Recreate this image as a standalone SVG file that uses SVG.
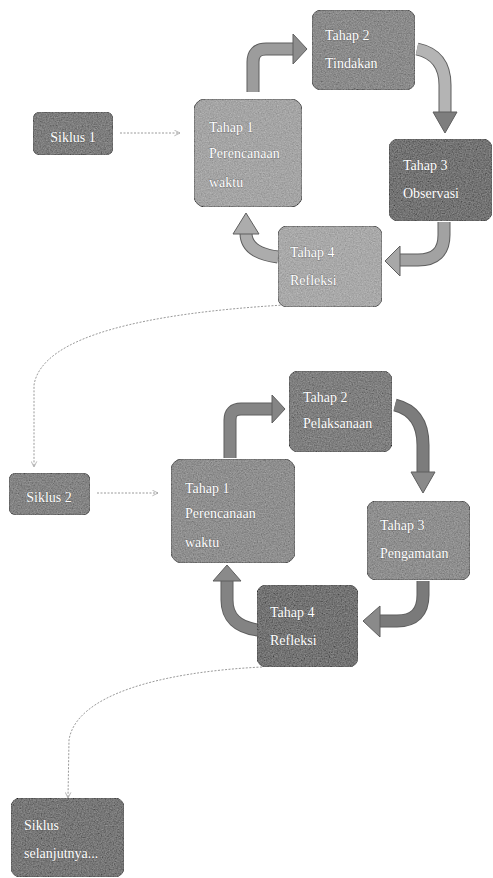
<svg xmlns="http://www.w3.org/2000/svg" width="493" height="878" viewBox="0 0 493 878">
<defs>
  <filter id="grain" x="0" y="0" width="1" height="1">
    <feTurbulence type="fractalNoise" baseFrequency="0.75" numOctaves="2" seed="4" result="t"/>
    <feColorMatrix in="t" type="matrix" values="0.33 0.33 0.33 0 0  0.33 0.33 0.33 0 0  0.33 0.33 0.33 0 0  0 0 0 0 1" result="g"/>
    <feComposite in="SourceGraphic" in2="g" operator="arithmetic" k1="0" k2="1" k3="0.45" k4="-0.22" result="m"/>
    <feComposite in="m" in2="SourceAlpha" operator="in"/>
  </filter>
  <marker id="open" viewBox="0 0 10 10" refX="9" refY="5" markerWidth="7" markerHeight="7" orient="auto" markerUnits="userSpaceOnUse">
    <path d="M1 1 L9 5 L1 9" fill="none" stroke="#999" stroke-width="1"/>
  </marker>
</defs>
<style>
  .box{stroke:#5a5a5a;stroke-width:1;filter:url(#grain)}
  .lbl{font-family:"Liberation Serif","Times New Roman",serif;font-size:14px;fill:#ffffff;stroke:#4a4a4a;stroke-width:0.4px;paint-order:stroke}
  .dot{fill:none;stroke:#9a9a9a;stroke-width:1;stroke-dasharray:2 1.5}
  .shaft-o{fill:none;stroke:#5e5e5e;stroke-width:13}
  .head{stroke:#5e5e5e;stroke-width:1;stroke-linejoin:round}
</style>
<rect width="493" height="878" fill="#ffffff"/>

<g id="connectors">
  <!-- dotted connectors -->
  <path class="dot" d="M120 133 L180 133" marker-end="url(#open)"/>
  <path class="dot" d="M97 493 L158 493" marker-end="url(#open)"/>
  <path class="dot" d="M284 305 C150 313 42 335 34 385 L34 467" marker-end="url(#open)"/>
  <path class="dot" d="M262 667 C160 672 76 695 69 740 L68 798" marker-end="url(#open)"/>

  <!-- cycle 1 block arrows -->
  <g id="a1">
    <path class="shaft-o" d="M253 92 L253 62 Q253 49 266 49 L295 49"/>
    <path fill="none" stroke="#9c9c9c" stroke-width="11" d="M253 92 L253 62 Q253 49 266 49 L295 49"/>
    <polygon class="head" fill="#8e8e8e" points="293,34 307,49 293,64"/>
  </g>
  <g id="a2">
    <path class="shaft-o" d="M417 49 Q445 55 445 85 L445 113"/>
    <path fill="none" stroke="#b4b4b4" stroke-width="11" d="M417 49 Q445 55 445 85 L445 113"/>
    <polygon class="head" fill="#7e7e7e" points="433,112 457,112 445,133"/>
  </g>
  <g id="a3">
    <path class="shaft-o" d="M444 222 L444 235 Q444 260 418 260 L399 260"/>
    <path fill="none" stroke="#a2a2a2" stroke-width="11" d="M444 222 L444 235 Q444 260 418 260 L399 260"/>
    <polygon class="head" fill="#a8a8a8" points="400,246 400,276 385,261"/>
  </g>
  <g id="a4">
    <path class="shaft-o" d="M278 257 Q246 253 246 233"/>
    <path fill="none" stroke="#acacac" stroke-width="11" d="M278 257 Q246 253 246 233"/>
    <polygon class="head" fill="#acacac" points="233,234 259,234 246,213"/>
  </g>

  <!-- cycle 2 block arrows -->
  <g id="b1">
    <path class="shaft-o" d="M230 458 L230 420 Q230 409 241 409 L274 409"/>
    <path fill="none" stroke="#858585" stroke-width="11" d="M230 458 L230 420 Q230 409 241 409 L274 409"/>
    <polygon class="head" fill="#858585" points="272,395 285,409 272,423"/>
  </g>
  <g id="b2">
    <path class="shaft-o" d="M395 405 Q423 412 423 445 L423 474"/>
    <path fill="none" stroke="#7c7c7c" stroke-width="11" d="M395 405 Q423 412 423 445 L423 474"/>
    <polygon class="head" fill="#8a8a8a" points="411,472 435,472 423,493"/>
  </g>
  <g id="b3">
    <path class="shaft-o" d="M423 581 L423 595 Q423 621 397 621 L379 621"/>
    <path fill="none" stroke="#7a7a7a" stroke-width="11" d="M423 581 L423 595 Q423 621 397 621 L379 621"/>
    <polygon class="head" fill="#8a8a8a" points="380,606 380,637 363,621"/>
  </g>
  <g id="b4">
    <path class="shaft-o" d="M258 630 Q227 626 227 600 L227 580"/>
    <path fill="none" stroke="#838383" stroke-width="11" d="M258 630 Q227 626 227 600 L227 580"/>
    <polygon class="head" fill="#8a8a8a" points="213,581 241,581 227,565"/>
  </g>
</g>

<!-- cycle 1 nodes -->
<g id="siklus1">
  <rect class="box" x="33" y="112" width="80" height="43" rx="7" fill="#7c7c7c"/>
  <text class="lbl" x="73" y="142" text-anchor="middle">Siklus 1</text>
</g>
<g id="c1-tahap1">
  <rect class="box" x="194" y="99" width="108" height="108" rx="11" fill="#a4a4a4"/>
  <text class="lbl" x="209" y="132">Tahap 1</text>
  <text class="lbl" x="209" y="158">Perencanaan</text>
  <text class="lbl" x="209" y="187">waktu</text>
</g>
<g id="c1-tahap2">
  <rect class="box" x="312" y="10" width="103" height="80" rx="9" fill="#8a8a8a"/>
  <text class="lbl" x="325" y="40">Tahap 2</text>
  <text class="lbl" x="325" y="68">Tindakan</text>
</g>
<g id="c1-tahap3">
  <rect class="box" x="389" y="139" width="103" height="82" rx="9" fill="#727272"/>
  <text class="lbl" x="403" y="170">Tahap 3</text>
  <text class="lbl" x="403" y="198">Observasi</text>
</g>
<g id="c1-tahap4">
  <rect class="box" x="278" y="226" width="104" height="81" rx="9" fill="#a8a8a8"/>
  <text class="lbl" x="290" y="257">Tahap 4</text>
  <text class="lbl" x="290" y="285">Refleksi</text>
</g>

<!-- cycle 2 nodes -->
<g id="siklus2">
  <rect class="box" x="9" y="473" width="81" height="42" rx="7" fill="#838383"/>
  <text class="lbl" x="49" y="502" text-anchor="middle">Siklus 2</text>
</g>
<g id="c2-tahap1">
  <rect class="box" x="171" y="459" width="124" height="104" rx="11" fill="#8e8e8e"/>
  <text class="lbl" x="185" y="493">Tahap 1</text>
  <text class="lbl" x="185" y="518">Perencanaan</text>
  <text class="lbl" x="185" y="547">waktu</text>
</g>
<g id="c2-tahap2">
  <rect class="box" x="289" y="371" width="103" height="81" rx="9" fill="#7e7e7e"/>
  <text class="lbl" x="303" y="402">Tahap 2</text>
  <text class="lbl" x="303" y="428">Pelaksanaan</text>
</g>
<g id="c2-tahap3">
  <rect class="box" x="367" y="501" width="103" height="79" rx="9" fill="#8e8e8e"/>
  <text class="lbl" x="380" y="530">Tahap 3</text>
  <text class="lbl" x="380" y="558">Pengamatan</text>
</g>
<g id="c2-tahap4">
  <rect class="box" x="257" y="585" width="101" height="82" rx="9" fill="#727272"/>
  <text class="lbl" x="270" y="617">Tahap 4</text>
  <text class="lbl" x="270" y="645">Refleksi</text>
</g>
<g id="siklus-selanjutnya">
  <rect class="box" x="11" y="798" width="113" height="79" rx="9" fill="#767676"/>
  <text class="lbl" x="24" y="830">Siklus</text>
  <text class="lbl" x="24" y="858">selanjutnya...</text>
</g>
</svg>
